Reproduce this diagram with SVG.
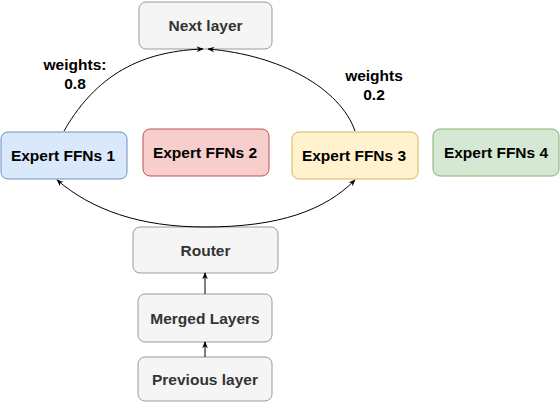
<svg xmlns="http://www.w3.org/2000/svg" width="560" height="402" viewBox="0 0 560 402">
<style>
.n{stroke-width:1}
.g{fill:#f5f5f5;stroke:#9a9a9a}
.b{fill:#dae8fc;stroke:#6c8ebf}
.r{fill:#f8cecc;stroke:#b85450}
.y{fill:#fff2cc;stroke:#d6b656}
.gr{fill:#d5e8d4;stroke:#82b366}
text{font-family:"Liberation Sans",Arial,sans-serif;font-size:15.5px;font-weight:bold;text-anchor:middle;dominant-baseline:central}
.tg{fill:#333333}
.tk{fill:#000000}
.c{fill:none;stroke:#000;stroke-width:1;marker-end:url(#a)}
</style>
<defs>
<marker id="a" viewBox="0 0 10 10" refX="9" refY="5" markerWidth="7" markerHeight="7" orient="auto" markerUnits="userSpaceOnUse">
<path d="M0,1 L10,5 L0,9 L3,5 Z" fill="#000"/>
</marker>
</defs>
<rect width="560" height="402" fill="#fff"/>
<g id="next"><rect class="n g" x="139" y="2" width="133" height="47" rx="7"/><text class="tg" x="205.5" y="25.5">Next layer</text></g>
<g id="e1"><rect class="n b" x="1" y="132" width="126" height="47" rx="7"/><text class="tk" x="63" y="155.5">Expert FFNs 1</text></g>
<g id="e2"><rect class="n r" x="143" y="129" width="126" height="47" rx="7"/><text class="tk" x="205" y="152.5">Expert FFNs 2</text></g>
<g id="e3"><rect class="n y" x="292" y="132" width="126" height="47" rx="7"/><text class="tk" x="354" y="155.5">Expert FFNs 3</text></g>
<g id="e4"><rect class="n gr" x="433" y="129" width="126" height="47" rx="7"/><text class="tk" x="496" y="152.5">Expert FFNs 4</text></g>
<g id="router"><rect class="n g" x="133" y="227" width="145" height="46" rx="7"/><text class="tg" x="205.5" y="250">Router</text></g>
<g id="merged"><rect class="n g" x="138" y="294" width="134" height="48" rx="7"/><text class="tg" x="205" y="318">Merged Layers</text></g>
<g id="prev"><rect class="n g" x="138" y="357" width="134" height="44" rx="7"/><text class="tg" x="205" y="379">Previous layer</text></g>
<g id="labels">
<text class="tk" x="75" y="64">weights:</text><text class="tk" x="75" y="83">0.8</text>
<text class="tk" x="374" y="75">weights</text><text class="tk" x="374" y="94">0.2</text>
</g>
<g id="connectors">
<path class="c" d="M64,131 C100,68 150,51 203,49"/>
<path class="c" d="M355,131 C340,88 280,55 208,49"/>
<path class="c" d="M205,227 C140,227 92,210 57,180"/>
<path class="c" d="M205,227 C280,227 325,210 355,180"/>
<path class="c" d="M205,294 L205,273"/>
<path class="c" d="M205,357 L205,342"/>
</g>
</svg>
